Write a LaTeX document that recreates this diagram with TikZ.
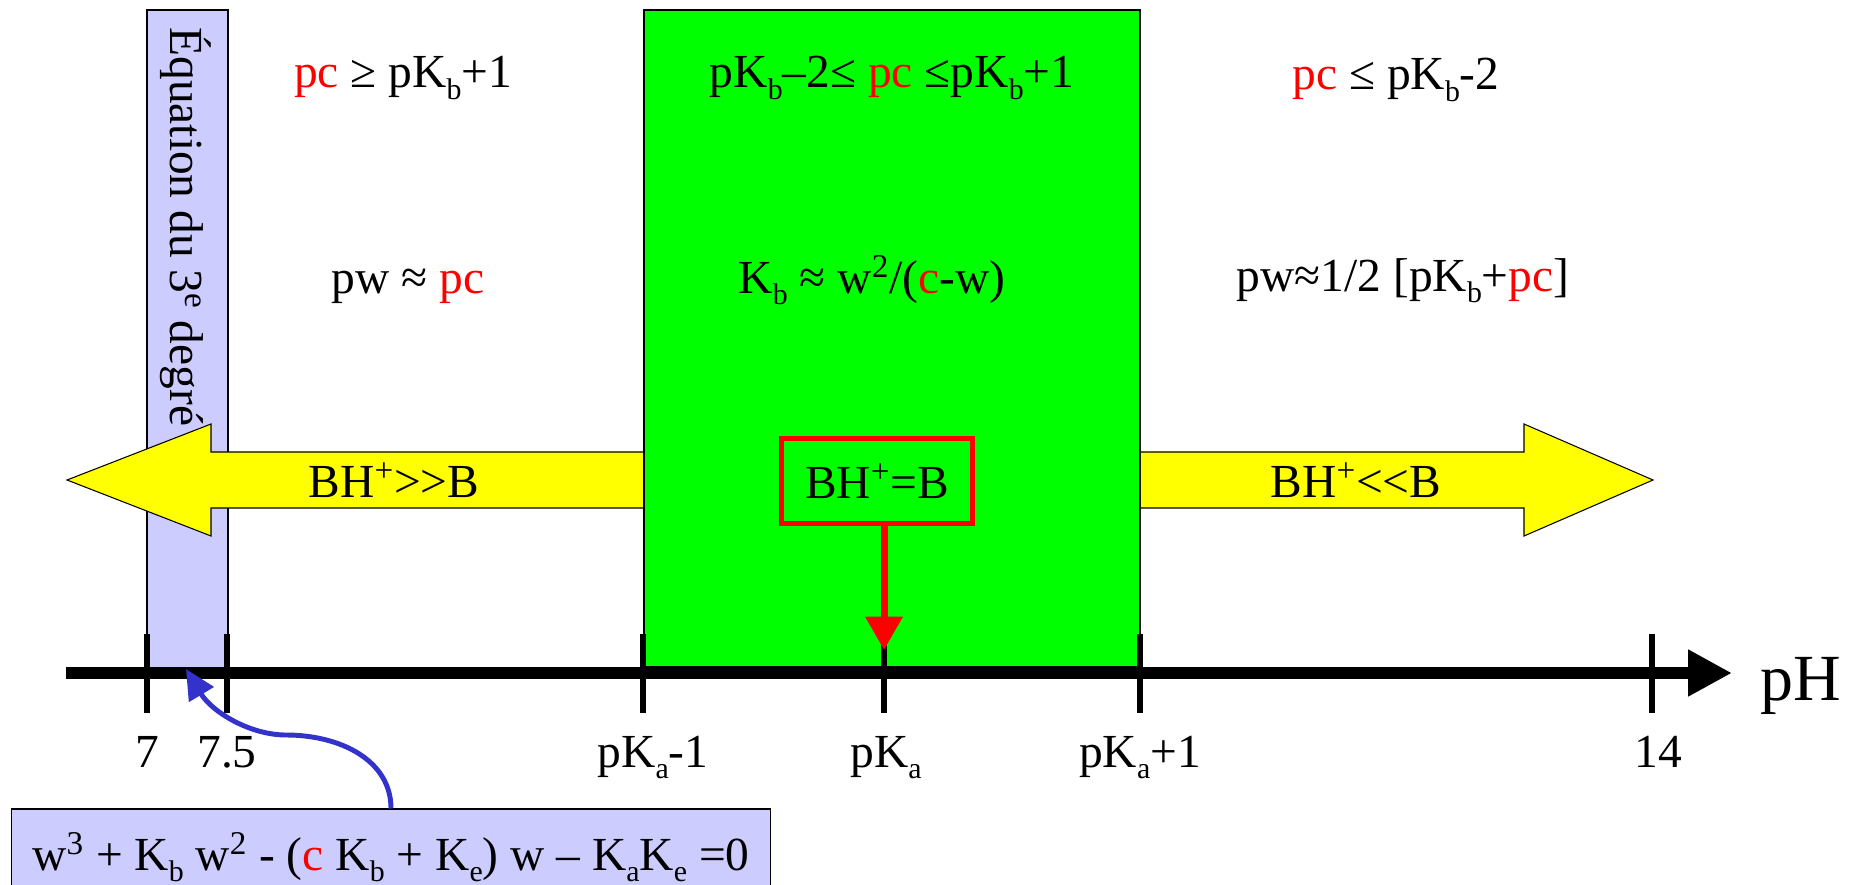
\documentclass[tikz,border=0pt]{standalone}
\usepackage{fontspec}
\setmainfont{Liberation Serif}
\usepackage{tikz}
\usetikzlibrary{positioning,arrows.meta}
\definecolor{lavender}{HTML}{CCCCFF}
\definecolor{zonegreen}{HTML}{00FF00}
\definecolor{fatyellow}{HTML}{FFFF00}
\definecolor{curveblue}{HTML}{3333CC}
\newcommand{\rd}[1]{\textcolor{red}{#1}}
\newcommand{\lowsub}[1]{\raisebox{-0.24em}{\fontsize{17}{20}\selectfont #1}}

\begin{document}
\begin{tikzpicture}[x=0.02cm, y=-0.02cm,
  txt/.style={font=\fontsize{27}{33}\selectfont, inner sep=0pt, anchor=base},
  zone/.style={draw, line width=0.6pt},
  fatarrow/.style={draw, fill=fatyellow, line width=0.6pt},
  tickmark/.style={line width=3.4pt},
  phaxis/.style={line width=6.3pt, -{Triangle[length=25pt, width=25pt]}},
  redbox/.style={draw=red, line width=2.8pt, minimum width=3.82cm, minimum height=1.7cm, inner sep=0pt},
  redarrow/.style={red, line width=4pt, -{Triangle[length=19pt, width=20.5pt]}},
  eqbox/.style={draw, fill=lavender, line width=0.6pt, minimum width=15.2cm, minimum height=1.92cm, inner sep=0pt},
  curvearrow/.style={curveblue, line width=2.8pt, -{Triangle[length=17pt, width=16pt]}}
]
\clip (0,0) rectangle (1858,885);

% domaines
\draw[zone, fill=lavender] (147,10) rectangle (228,670);
\node[txt, rotate=-90, anchor=base west] (cubic) at (170,27) {Équation du 3\textsuperscript{e} degré};
\draw[fatarrow] (67,480) -- (211,424) -- (211,452) -- (1524,452) -- (1524,424) -- (1653,480)
  -- (1524,536) -- (1524,508) -- (211,508) -- (211,536) -- cycle;
\draw[zone, fill=zonegreen] (644,10) rectangle (1140,667);

% conditions
\node[txt] (condleft) at (403,88) {\rd{pc} ≥ pK\lowsub{b}+1};
\node[txt] (condmid) at (892,88) {pK\lowsub{b}–2≤ \rd{pc} ≤pK\lowsub{b}+1};
\node[txt] (condright) at (1396,90) {\rd{pc} ≤ pK\lowsub{b}-2};
\node[txt] (approxleft) at (408,293) {pw ≈ \rd{pc}};
\node[txt] (approxmid) at (872,293) {K\lowsub{b} ≈ w\textsuperscript{2}/(\rd{c}-w)};
\node[txt] (approxright) at (1403,291) {pw≈1/2 [pK\lowsub{b}+\rd{pc}]};

% especes
\node[txt] (acidside) at (394,497) {BH\textsuperscript{+}>\kern0pt>B};
\node[txt] (baseside) at (1356,497) {BH\textsuperscript{+}<\kern0pt<B};
\node[redbox, txt, anchor=center] (equal) at (877,481) {BH\textsuperscript{+}=B};

% axe pH
\coordinate (axisstart) at (66,673);
\coordinate (axisend) at (1732,673);
\draw[phaxis] (axisstart) -- (axisend);
\foreach \x/\lx/\name/\val in {147/147/seven/7, 227/227/sevenhalf/7.5,
    643/653/pkaminus/{pK\lowsub{a}-1}, 884/886/pka/{pK\lowsub{a}},
    1140/1140/pkaplus/{pK\lowsub{a}+1}, 1652/1658/fourteen/14}{
  \draw[tickmark] (\x,634) -- (\x,713);
  \node[txt] (\name) at (\lx,767) {\val};
}
\node[txt, font=\fontsize{37.5}{45}\selectfont] (ph) at (1801,700) {pH};
\coordinate (pkatip) at (884,650);
\draw[redarrow] (equal.south -| pkatip) -- (pkatip);

% equation
\node[eqbox, txt, anchor=center] (cubiceq) at (391,857)
  {w\textsuperscript{3} + K\lowsub{b} w\textsuperscript{2} - (\rd{c} K\lowsub{b} + K\lowsub{e}) w – K\lowsub{a}K\lowsub{e} =0};
\coordinate (cubictip) at (186,669);
\draw[curvearrow] (cubiceq.north) .. controls (391,760) and (340,735) .. (286,735)
  .. controls (250,735) and (212,712) .. (cubictip);
\end{tikzpicture}
\end{document}
